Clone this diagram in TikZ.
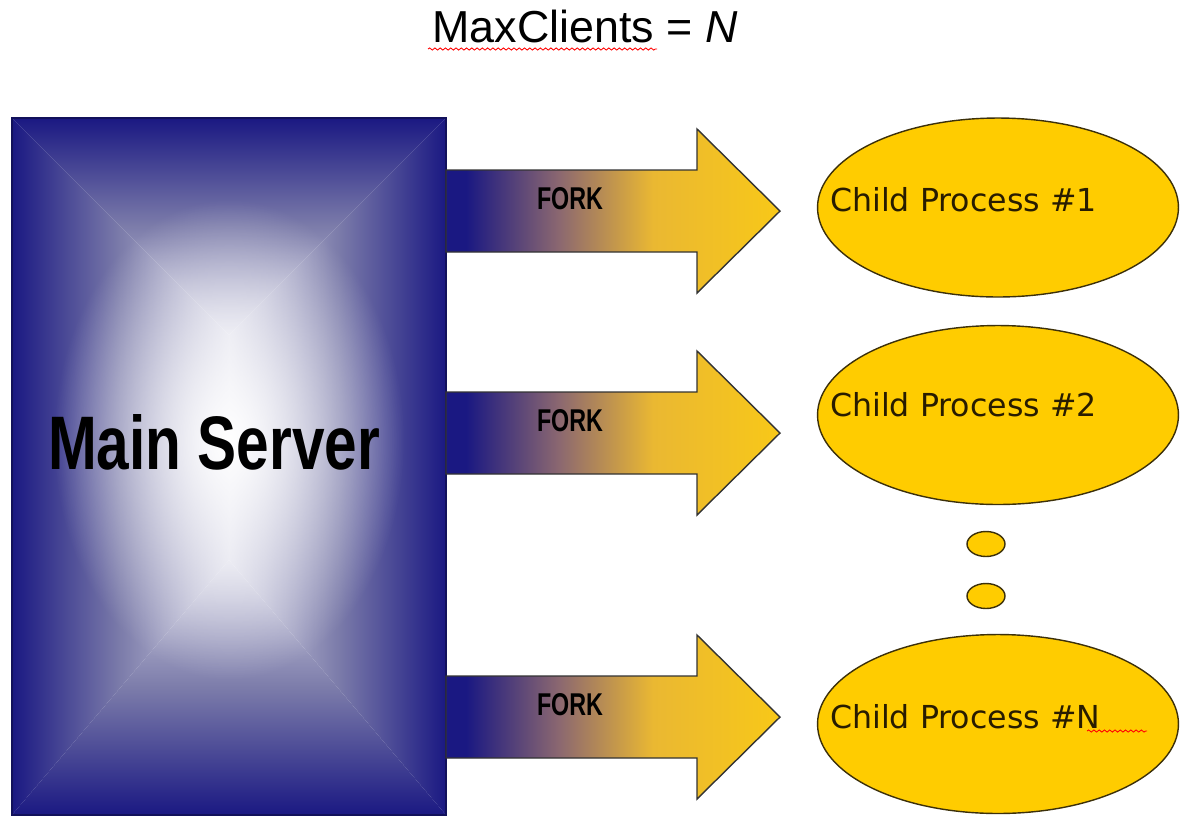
\documentclass[tikz,border=0pt]{standalone}
\usepackage{fontspec}
\setmainfont{Liberation Sans}
\newfontfamily\childfont{DejaVu Sans}
\usetikzlibrary{shapes.geometric,decorations.pathmorphing,fadings}

\definecolor{srvnavy}{RGB}{26,24,130}
\definecolor{srvmid}{RGB}{124,124,170}
\definecolor{srvlight}{RGB}{218,218,232}
\definecolor{forkmid}{RGB}{140,104,112}
\definecolor{forkgold}{RGB}{234,184,50}
\definecolor{forktip}{RGB}{248,200,24}
\definecolor{childgold}{RGB}{255,204,0}
\definecolor{childedge}{RGB}{60,48,10}
\definecolor{childtext}{RGB}{40,28,0}

\pgfdeclarehorizontalshading{forkshade}{100bp}{color(0bp)=(srvnavy); color(28bp)=(srvnavy); color(42bp)=(forkmid); color(56bp)=(forkgold); color(75bp)=(forktip); color(100bp)=(forktip)}
\tikzfading[name=srvglow, inner color=transparent!0, outer color=transparent!100]

\tikzset{
  procnode/.style={ellipse, draw=childedge, fill=childgold, line width=0.8pt,
    minimum width=7.22cm, minimum height=3.58cm, inner sep=0pt},
  dotnode/.style={ellipse, draw=childedge, fill=childgold, line width=0.8pt,
    minimum width=0.76cm, minimum height=0.5cm, inner sep=0pt},
  proclbl/.style={anchor=west, inner sep=0pt, text=childtext,
    font=\childfont\fontsize{18}{22}\selectfont},
  forkarrow/.style={shading=forkshade, draw=black!80, line width=0.8pt},
  forklbl/.style={inner sep=0pt},
  spell/.style={red, line width=0.5pt, decorate,
    decoration={snake, amplitude=0.6pt, segment length=3pt}}
}

\begin{document}
\begin{tikzpicture}[x=0.02cm,y=-0.02cm]
  \useasboundingbox (0,0) rectangle (1180,816);

  % title
  \node[inner sep=0pt, font=\fontsize{25.5}{30}\selectfont] (maxcl) at (585,26) {MaxClients = \textit{N}};
  \draw[spell] (428,49) -- (657,49);

  % main server box, shaded from the edges in
  \path node[minimum width=8.68cm, minimum height=13.94cm, inner sep=0pt] (srv) at (229,466.5) {};
  \coordinate (ctop) at (229,335);
  \coordinate (cbot) at (229,560);
  \shade[top color=srvnavy, bottom color=srvlight, middle color=srvmid] (srv.north west) -- (srv.north east) -- (ctop) -- cycle;
  \shade[top color=srvlight, bottom color=srvnavy, middle color=srvmid] (srv.south west) -- (srv.south east) -- (cbot) -- cycle;
  \shade[left color=srvnavy, right color=srvlight, middle color=srvmid] (srv.north west) -- (ctop) -- (cbot) -- (srv.south west) -- cycle;
  \shade[left color=srvlight, right color=srvnavy, middle color=srvmid] (srv.north east) -- (ctop) -- (cbot) -- (srv.south east) -- cycle;
  \fill[white, path fading=srvglow] (229,440) ellipse [x radius=175, y radius=240];
  \draw[srvnavy!70!black, line width=1pt] (srv.north west) rectangle (srv.south east);
  \node[inner sep=0pt] (srvlbl) at (214,442.5) {\resizebox{6.64cm}{1.1cm}{\bfseries Main Server}};

  % fork arrows
  \foreach \yc/\k in {211/1,433/2,717/3}{
    \shadedraw[forkarrow] (446,\yc-41) -- (697,\yc-41) -- (697,\yc-82) -- (780,\yc)
      -- (697,\yc+82) -- (697,\yc+41) -- (446,\yc+41) -- cycle;
    \node[forklbl] (fork\k) at (570,\yc-12) {\resizebox{1.32cm}{0.44cm}{\bfseries FORK}};
  }

  % child processes
  \node[procnode] (child1) at (998,207.5) {};
  \node[procnode] (child2) at (998,415) {};
  \node[procnode] (childN) at (998,724) {};
  \node[proclbl] (lbl1) at ([shift={(13,-8)}]child1.west) {Child Process \#1};
  \node[proclbl] (lbl2) at ([shift={(13,-10)}]child2.west) {Child Process \#2};
  \node[proclbl] (lblN) at ([shift={(13,-7)}]childN.west) {Child Process \#N};
  \draw[spell] (1087,731) -- (1147,731);

  \node[dotnode] (dot1) at (986,544) {};
  \node[dotnode] (dot2) at (986,596) {};
\end{tikzpicture}
\end{document}
